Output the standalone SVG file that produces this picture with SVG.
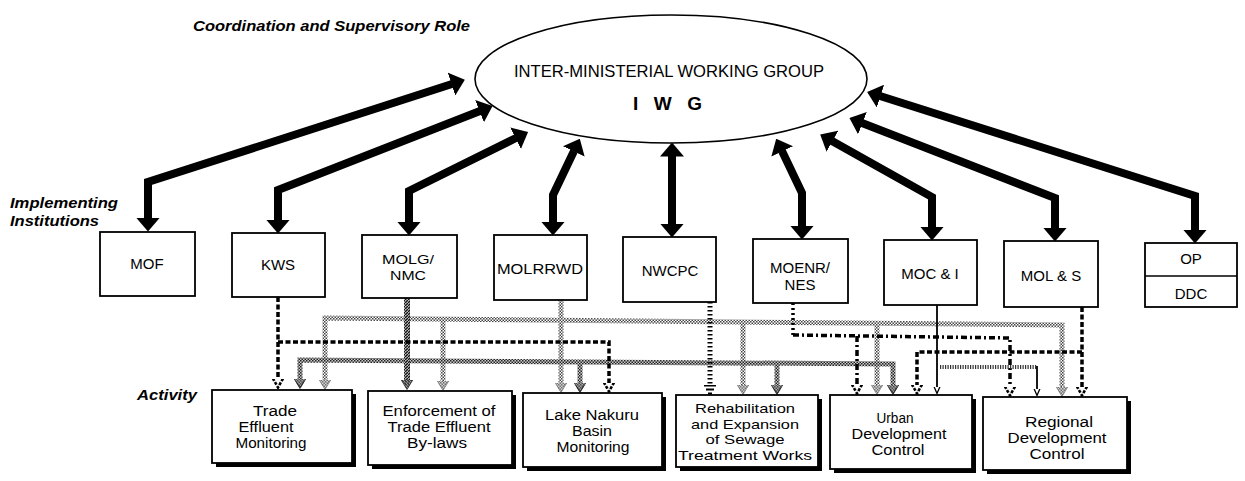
<svg xmlns="http://www.w3.org/2000/svg" width="1245" height="481" viewBox="0 0 1245 481">
<style>
text{font-family:"Liberation Sans",Arial,sans-serif;fill:#000}
.lbl{font-weight:bold;font-style:italic}
.box{fill:#fff;stroke:#000;stroke-width:1.8}
.shd{fill:#000}
.bt{font-size:15px;text-anchor:middle}
.bt2{font-size:13.5px;text-anchor:middle}
.at{font-size:14px;text-anchor:middle}
.at4{font-size:13.5px;text-anchor:middle}
.big{fill:none;stroke:#000;stroke-width:8;stroke-linejoin:miter;marker-start:url(#bigA);marker-end:url(#bigA)}
.chk{fill:none;stroke:url(#chkP);stroke-width:5}
.chk2{fill:none;stroke:url(#chk2P);stroke-width:5}
.hat{fill:none;stroke:url(#hatP);stroke-width:6}
.blk{fill:none;stroke:#000;stroke-width:3.5;stroke-dasharray:5 2.5}
.dd{fill:none;stroke:#000;stroke-width:3.5;stroke-dasharray:6 3 2 3}
.dot{fill:none;stroke:#000;stroke-width:3.5;stroke-dasharray:2 3}
.lad{fill:none;stroke:#000;stroke-width:5;stroke-dasharray:1.5 2.5}
.tick{fill:none;stroke:#333;stroke-width:4;stroke-dasharray:1.2 1.3}
.sol{fill:none;stroke:#000;stroke-width:1.8}
</style>
<defs>
<pattern id="chkP" width="3" height="3" patternUnits="userSpaceOnUse"><rect width="3" height="3" fill="#fff"/><rect width="1.5" height="1.5" fill="#444"/><rect x="1.5" y="1.5" width="1.5" height="1.5" fill="#444"/></pattern>
<pattern id="chk2P" width="3" height="3" patternUnits="userSpaceOnUse"><rect width="3" height="3" fill="#ccc"/><rect width="1.5" height="1.5" fill="#222"/><rect x="1.5" y="1.5" width="1.5" height="1.5" fill="#222"/></pattern>
<pattern id="hatP" width="3" height="3" patternUnits="userSpaceOnUse"><rect width="3" height="3" fill="#bbb"/><path d="M0,3 L3,0" stroke="#111" stroke-width="1.3"/></pattern>
<marker id="bigA" markerUnits="userSpaceOnUse" viewBox="0 0 14 24" markerWidth="14" markerHeight="24" refX="0.5" refY="12" orient="auto-start-reverse"><path d="M0,0 L14,12 L0,24 z" fill="#000"/></marker>
<marker id="mChk" markerUnits="userSpaceOnUse" viewBox="0 0 10 12" markerWidth="10" markerHeight="12" refX="0.5" refY="6" orient="auto-start-reverse"><path d="M0,0 L10,6 L0,12 z" fill="url(#chkP)" stroke="#555" stroke-width="0.6"/></marker>
<marker id="mChk2" markerUnits="userSpaceOnUse" viewBox="0 0 10 12" markerWidth="10" markerHeight="12" refX="0.5" refY="6" orient="auto-start-reverse"><path d="M0,0 L10,6 L0,12 z M3,2 L9,6 L3,10" fill="url(#chk2P)" stroke="#222" stroke-width="0.8"/></marker>
<marker id="mHat" markerUnits="userSpaceOnUse" viewBox="0 0 10 12" markerWidth="10" markerHeight="12" refX="0.5" refY="6" orient="auto-start-reverse"><path d="M0,0 L10,6 L0,12 z" fill="url(#hatP)" stroke="#222" stroke-width="0.8"/></marker>
<marker id="mBlk" markerUnits="userSpaceOnUse" viewBox="0 0 10 12" markerWidth="10" markerHeight="12" refX="0.5" refY="6" orient="auto-start-reverse"><path d="M0,1 L9,6 L0,11" fill="none" stroke="#000" stroke-width="2.6" stroke-dasharray="3 1.5"/></marker>
<marker id="mGnd" markerUnits="userSpaceOnUse" viewBox="0 0 10 12" markerWidth="10" markerHeight="12" refX="0.5" refY="6" orient="auto"><rect x="0" y="0" width="2" height="12" fill="#000"/><rect x="4" y="2" width="2" height="8" fill="#000"/><rect x="8" y="4" width="2" height="4" fill="#000"/></marker>
<marker id="mOpen" markerUnits="userSpaceOnUse" viewBox="0 0 8 8" markerWidth="8" markerHeight="8" refX="0.5" refY="4" orient="auto"><path d="M0,1 L7,4 L0,7" fill="none" stroke="#000" stroke-width="1.3"/></marker>
</defs>
<rect width="1245" height="481" fill="#fff"/>

<text class="lbl" x="193" y="31" font-size="14" textLength="277" lengthAdjust="spacingAndGlyphs">Coordination and Supervisory Role</text>
<text class="lbl" x="10" y="208" font-size="15" textLength="108" lengthAdjust="spacingAndGlyphs">Implementing</text>
<text class="lbl" x="10" y="226" font-size="15" textLength="89" lengthAdjust="spacingAndGlyphs">Institutions</text>
<text class="lbl" x="137" y="400" font-size="15" textLength="60" lengthAdjust="spacingAndGlyphs">Activity</text>

<g id="connectors">
<polyline class="big" points="452,84 148,182 148,218"/>
<polyline class="big" points="480,111 278,190 278,220"/>
<polyline class="big" points="516,138 409,191 409,222"/>
<polyline class="big" points="574,151 553,195 553,222"/>
<polyline class="big" points="672,156 672,224"/>
<polyline class="big" points="782,151 802,193 802,226"/>
<polyline class="big" points="832,141 932,197 932,227"/>
<polyline class="big" points="862,123 1055,198 1055,228"/>
<polyline class="big" points="880,96 1195,196 1195,230"/>

<path class="chk" d="M325,380 V318 L1062,325 V387" marker-start="url(#mChk)" marker-end="url(#mChk)"/>
<path class="chk" d="M443,319 V381" marker-end="url(#mChk)"/>
<path class="chk" d="M561,300 V383" marker-end="url(#mChk)"/>
<path class="chk" d="M743,322 V385" marker-end="url(#mChk)"/>
<path class="chk" d="M877,323 V385" marker-end="url(#mChk)"/>

<path class="chk2" d="M300,379 V360 L893,364 V385" marker-start="url(#mChk2)" marker-end="url(#mChk2)"/>
<path class="chk2" d="M580,362 V383" marker-end="url(#mChk2)"/>
<path class="chk2" d="M777,363 V385" marker-end="url(#mChk2)"/>

<path class="hat" d="M407,298 V380" marker-end="url(#mHat)"/>

<path class="blk" d="M278,297 V379" marker-end="url(#mBlk)"/>
<path class="blk" d="M278,342 H609 V383" marker-end="url(#mBlk)"/>

<path class="lad" d="M710,302 V385" marker-end="url(#mGnd)"/>

<path class="dot" d="M793,303 V335"/>
<path class="dd" d="M793,335 L1010,338 V387" marker-end="url(#mBlk)"/>
<path class="dd" d="M857,336 V385" marker-end="url(#mBlk)"/>

<path class="sol" d="M937,305 V387" marker-end="url(#mOpen)"/>
<path class="tick" d="M940,367 H1037"/>
<path class="sol" d="M1037,366 V389" marker-end="url(#mOpen)"/>

<path class="blk" d="M1082,307 V387" marker-end="url(#mBlk)"/>
<path class="blk" d="M1082,352 H917 V385" marker-end="url(#mBlk)"/>
</g>

<g id="iwg">
<ellipse cx="671" cy="79" rx="196" ry="64" fill="none" stroke="#000" stroke-width="1.6"/>
<text x="669" y="77" font-size="16.5" text-anchor="middle" textLength="310" lengthAdjust="spacingAndGlyphs">INTER-MINISTERIAL WORKING GROUP</text>
<text x="633" y="110" font-size="19" font-weight="bold" textLength="69" lengthAdjust="spacing">IWG</text>
</g>

<g id="mof"><rect class="box" x="100" y="232" width="95" height="64"/><text class="bt" x="147" y="269">MOF</text></g>
<g id="kws"><rect class="box" x="232" y="233" width="93" height="64"/><text class="bt" x="278" y="270">KWS</text></g>
<g id="molg"><rect class="box" x="362" y="235" width="95" height="63"/><text class="bt2" x="408" y="264" textLength="52" lengthAdjust="spacingAndGlyphs">MOLG/</text><text class="bt2" x="408" y="280" textLength="36" lengthAdjust="spacingAndGlyphs">NMC</text></g>
<g id="molrrwd"><rect class="box" x="494" y="235" width="93" height="65"/><text class="bt" x="540" y="274" textLength="86" lengthAdjust="spacingAndGlyphs">MOLRRWD</text></g>
<g id="nwcpc"><rect class="box" x="623" y="237" width="93" height="65"/><text class="bt" x="670" y="276">NWCPC</text></g>
<g id="moenr"><rect class="box" x="753" y="239" width="95" height="64"/><text class="bt" x="800" y="273">MOENR/</text><text class="bt" x="800" y="290">NES</text></g>
<g id="moci"><rect class="box" x="884" y="240" width="93" height="65"/><text class="bt" x="930" y="279">MOC &amp; I</text></g>
<g id="mols"><rect class="box" x="1004" y="241" width="94" height="66"/><text class="bt" x="1051" y="281">MOL &amp; S</text></g>
<g id="op"><rect class="box" x="1145" y="243" width="92" height="64"/><line x1="1145" y1="276" x2="1237" y2="276" stroke="#000" stroke-width="1.4"/><text class="bt" x="1191" y="264">OP</text><text class="bt" x="1191" y="299">DDC</text></g>

<g id="trade"><rect class="shd" x="216" y="394" width="140" height="73"/><rect class="box" x="212" y="390" width="140" height="73"/><text class="at" x="275" y="416" textLength="44" lengthAdjust="spacingAndGlyphs">Trade</text><text class="at" x="266" y="432" textLength="55" lengthAdjust="spacingAndGlyphs">Effluent</text><text class="at" x="271" y="448" textLength="71" lengthAdjust="spacingAndGlyphs">Monitoring</text></g>
<g id="enforce"><rect class="shd" x="372" y="395" width="144" height="74"/><rect class="box" x="368" y="391" width="144" height="74"/><text class="at" x="439" y="416" textLength="113" lengthAdjust="spacingAndGlyphs">Enforcement of</text><text class="at" x="439" y="432" textLength="103" lengthAdjust="spacingAndGlyphs">Trade Effluent</text><text class="at" x="437" y="448" textLength="60" lengthAdjust="spacingAndGlyphs">By-laws</text></g>
<g id="lake"><rect class="shd" x="527" y="397" width="139" height="74"/><rect class="box" x="523" y="393" width="139" height="74"/><text class="at" x="592" y="420" textLength="94" lengthAdjust="spacingAndGlyphs">Lake Nakuru</text><text class="at" x="592" y="436" textLength="40" lengthAdjust="spacingAndGlyphs">Basin</text><text class="at" x="593" y="452" textLength="73" lengthAdjust="spacingAndGlyphs">Monitoring</text></g>
<g id="rehab"><rect class="shd" x="680" y="399" width="142" height="72"/><rect class="box" x="676" y="395" width="142" height="72"/><text class="at4" x="745" y="413" textLength="100" lengthAdjust="spacingAndGlyphs">Rehabilitation</text><text class="at4" x="745" y="428.5" textLength="108" lengthAdjust="spacingAndGlyphs">and Expansion</text><text class="at4" x="745" y="444" textLength="79" lengthAdjust="spacingAndGlyphs">of Sewage</text><text class="at4" x="745" y="459.5" textLength="134" lengthAdjust="spacingAndGlyphs">Treatment Works</text></g>
<g id="urban"><rect class="shd" x="834" y="399" width="142" height="74"/><rect class="box" x="830" y="395" width="142" height="74"/><text class="at" x="895" y="423" textLength="37" lengthAdjust="spacingAndGlyphs">Urban</text><text class="at" x="899" y="439" textLength="95" lengthAdjust="spacingAndGlyphs">Development</text><text class="at" x="898" y="455" textLength="53" lengthAdjust="spacingAndGlyphs">Control</text></g>
<g id="regional"><rect class="shd" x="987" y="401" width="144" height="73"/><rect class="box" x="983" y="397" width="144" height="73"/><text class="at" x="1059" y="427" textLength="68" lengthAdjust="spacingAndGlyphs">Regional</text><text class="at" x="1057" y="443" textLength="99" lengthAdjust="spacingAndGlyphs">Development</text><text class="at" x="1057" y="459" textLength="55" lengthAdjust="spacingAndGlyphs">Control</text></g>
</svg>
